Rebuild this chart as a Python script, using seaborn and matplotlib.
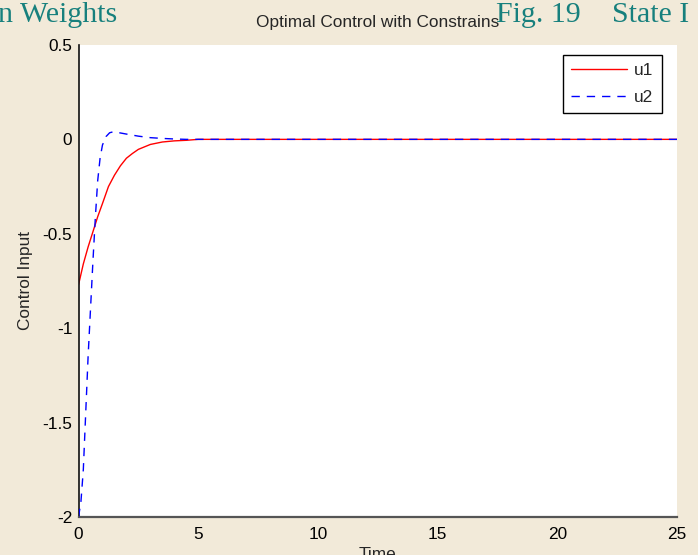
import matplotlib
matplotlib.use("Agg")
import matplotlib.pyplot as plt
import matplotlib.ticker as mticker
import pandas as pd
import seaborn as sns

# Control inputs of the constrained optimal controller
t_u1 = [0, 0.2, 0.4, 0.6, 0.8, 1.0, 1.25, 1.5, 1.75, 2.0, 2.25, 2.5, 3.0, 3.5, 4.0, 4.5, 5.0, 10, 15, 20, 25]
u1 = [-0.77, -0.66, -0.57, -0.49, -0.41, -0.34, -0.25, -0.19, -0.14, -0.10, -0.075, -0.053,
      -0.027, -0.014, -0.008, -0.005, 0.0, 0.0, 0.0, 0.0, 0.0]

t_u2 = [0, 0.1, 0.2, 0.3, 0.4, 0.5, 0.6, 0.7, 0.8, 0.9, 1.0, 1.15, 1.3, 1.45, 1.7, 2.0, 2.5,
        3.0, 3.5, 4.0, 4.5, 10, 15, 20, 25]
u2 = [-2.0, -1.92, -1.75, -1.45, -1.15, -0.90, -0.65, -0.42, -0.22, -0.10, -0.03, 0.015, 0.035,
      0.04, 0.035, 0.028, 0.017, 0.009, 0.005, 0.002, 0.0, 0.0, 0.0, 0.0, 0.0]

x_ticks = [0, 5, 10, 15, 20, 25]
y_ticks = [-2, -1.5, -1, -0.5, 0, 0.5]

df1 = pd.DataFrame({"Time": t_u1, "value": u1})
df2 = pd.DataFrame({"Time": t_u2, "value": u2})

sns.set_theme(style="white")
plt.rcParams["font.family"] = ["Liberation Sans", "DejaVu Sans"]
plt.rcParams["axes.unicode_minus"] = False

bg = "#F2EAD9"
fig = plt.figure(figsize=(6.98, 5.55), dpi=100, facecolor=bg)
ax = fig.add_axes([0.1125, 0.0685, 0.8574, 0.8505])
ax.set_facecolor("white")

sns.lineplot(data=df1, x="Time", y="value", ax=ax, color="#FF0000", lw=1.0, label="u1", zorder=2)
sns.lineplot(data=df2, x="Time", y="value", ax=ax, color="#0000FF", lw=1.0, label="u2", zorder=3)
ax.lines[1].set_linestyle((0, (6, 5)))

ax.set_xlim(0, 25)
ax.set_ylim(-2, 0.5)
ax.set_xticks(x_ticks)
ax.set_yticks(y_ticks)
ax.xaxis.set_major_formatter(mticker.FormatStrFormatter("%g"))
ax.yaxis.set_major_formatter(mticker.FormatStrFormatter("%g"))
ax.tick_params(direction="in", length=6, width=1.0, color="#222222",
               labelsize=12.4, labelcolor="black", pad=4.5)
ax.tick_params(axis="x", pad=7)

for side in ("top", "right"):
    ax.spines[side].set_visible(False)
ax.spines["left"].set_color("#111111")
ax.spines["bottom"].set_color("#555555")
ax.spines["left"].set_linewidth(1.2)
ax.spines["bottom"].set_linewidth(1.6)

ax.set_title("Optimal Control with Constrains", fontsize=12.4, pad=13)
ax.set_xlabel("Time", fontsize=12.4, labelpad=4)
ax.set_ylabel("Control Input", fontsize=12.4, labelpad=6.5)

leg = ax.legend(loc="upper right", fontsize=12.4, frameon=True, fancybox=False,
                edgecolor="black", handlelength=3.2, borderaxespad=0,
                bbox_to_anchor=(662 / 698, 1 - 55 / 555), bbox_transform=fig.transFigure,
                borderpad=0.48, labelspacing=0.67, handletextpad=0.45)
leg.get_frame().set_linewidth(1.0)
leg.get_frame().set_alpha(1)

teal = "#17807D"
serif = ["Liberation Serif", "DejaVu Serif"]
fig.text(-0.003, 1 - 22 / 555, "n Weights", fontsize=21.5, color=teal,
         family=serif, va="baseline", ha="left")
fig.text(496 / 698, 1 - 22 / 555, "Fig. 19", fontsize=21.5, color=teal,
         family=serif, va="baseline", ha="left")
fig.text(612 / 698, 1 - 22 / 555, "State I", fontsize=21.5, color=teal,
         family=serif, va="baseline", ha="left")

fig.savefig("out.png", dpi=100, facecolor=bg)
